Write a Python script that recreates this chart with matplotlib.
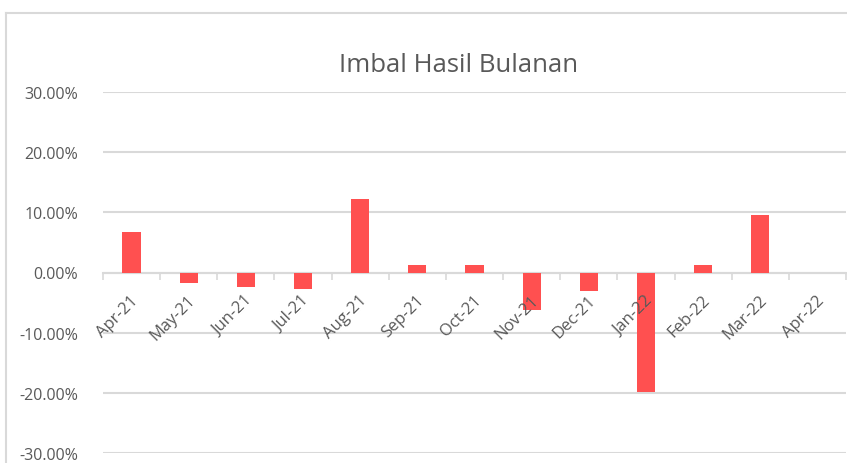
import numpy as np
import matplotlib
matplotlib.use("Agg")
import matplotlib.pyplot as plt
from matplotlib.lines import Line2D
from matplotlib.ticker import FixedLocator, FuncFormatter
from matplotlib.transforms import offset_copy

# data (monthly returns, %)
months = ["Apr-21", "May-21", "Jun-21", "Jul-21", "Aug-21", "Sep-21", "Oct-21",
          "Nov-21", "Dec-21", "Jan-22", "Feb-22", "Mar-22", "Apr-22"]
returns = [6.7, -1.8, -2.4, -2.8, 12.2, 1.2, 1.3, -6.2, -3.1, -19.8, 1.3, 9.5, 0.0]
yticks = [-30, -20, -10, 0, 10, 20, 30]

BAR_C = "#FF5050"
GRID_C = "#D9D9D9"
TXT_C = "#595959"
FONT = ["Open Sans", "DejaVu Sans"]

W, H = 847, 464
fig = plt.figure(figsize=(W / 100, H / 100), dpi=100)
fig.patch.set_facecolor("white")

# plot area in pixel coords
left, right = 103, 846
top, bottom = 93, 454
ax = fig.add_axes([left / W, 1 - bottom / H, (right - left) / W, (bottom - top) / H])
ax.set_facecolor("none")

x = np.arange(len(months))
ax.bar(x, returns, width=0.32, color=BAR_C, zorder=3)

ax.set_xlim(-0.5, len(months) - 0.5)
ax.set_ylim(-30, 30)
ax.set_yticks(yticks)
ax.yaxis.set_major_formatter(FuncFormatter(lambda v, p: f"{v:.2f}%"))
ax.grid(axis="y", color=GRID_C, linewidth=1.5, zorder=0)
ax.set_axisbelow(True)

for s in ["top", "right", "left"]:
    ax.spines[s].set_visible(False)
ax.spines["bottom"].set_position(("data", 0))
ax.spines["bottom"].set_color(GRID_C)
ax.spines["bottom"].set_linewidth(1.5)

ax.tick_params(axis="y", length=0, pad=18, labelsize=11.5, labelcolor=TXT_C)
for t in ax.get_yticklabels():
    t.set_family(FONT)

# tick marks at category boundaries, labels drawn on top of the bars
ax.set_xticks([])
ax.xaxis.set_minor_locator(FixedLocator(np.arange(-0.5, len(months), 1)))
ax.tick_params(axis="x", which="minor", length=5, width=1.2, color=GRID_C)

lab_tr = offset_copy(ax.transData, fig=fig, x=3, y=-18, units="points")
for xi, m in zip(x, months):
    ax.text(xi, 0, m, transform=lab_tr, rotation=45, ha="right", va="center",
            rotation_mode="anchor", fontsize=12, color=TXT_C, family=FONT,
            zorder=6, clip_on=False)

# title
fig.text(459 / W, 1 - 65 / H, "Imbal Hasil Bulanan", ha="center", va="center",
         fontsize=18.5, color=TXT_C, family=FONT)

# chart area border (cropped at right/bottom)
fig.add_artist(Line2D([6 / W, 6 / W], [0, 1 - 14 / H], color=GRID_C, lw=1.5,
                      transform=fig.transFigure))
fig.add_artist(Line2D([6 / W, 1], [1 - 14 / H, 1 - 14 / H], color=GRID_C, lw=1.5,
                      transform=fig.transFigure))

fig.savefig("out.png", dpi=100, facecolor="white")
